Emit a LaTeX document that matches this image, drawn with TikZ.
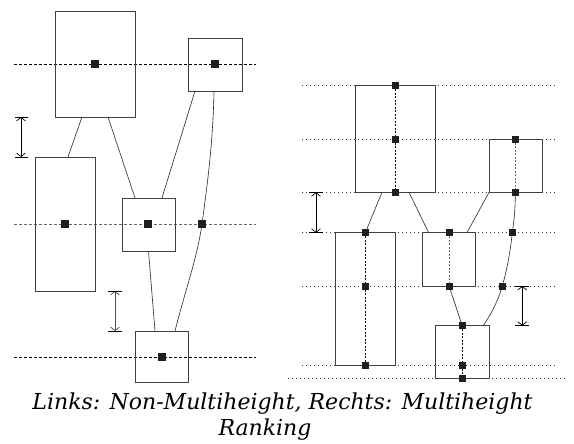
\documentclass[tikz,border=0pt]{standalone}
\usepackage{fontspec}
\setmainfont{DejaVu Serif}
\usetikzlibrary{arrows.meta,calc}
\tikzset{
 blk/.style={draw=black!75, line width=0.7pt, inner sep=0pt, outer sep=0pt},
 dot/.style={fill=black!88, inner sep=0pt, outer sep=0pt, minimum size=8pt},
 rdot/.style={fill=black!88, inner sep=0pt, outer sep=0pt, minimum size=7pt},
 guide/.style={dash pattern=on 3pt off 2pt, line width=0.6pt},
 rguide/.style={dash pattern=on 1.2pt off 2.8pt, line width=0.8pt, black!80},
 vguide/.style={dash pattern=on 2pt off 1.5pt, line width=0.6pt},
 edge/.style={line width=0.6pt, black!85},
 gap/.style={line width=0.7pt, {Straight Barb[length=3.5pt,width=9pt]}-{Straight Barb[length=3.5pt,width=9pt]}},
 tick/.style={line width=0.6pt},
 captext/.style={font=\itshape\fontsize{22}{26}\selectfont, anchor=base, inner sep=0pt},
}
\begin{document}
\begin{tikzpicture}[x=1pt,y=-1pt]
\useasboundingbox (0,0) rectangle (574,444);
% ---------------- left: guides
\draw[guide] (14,64) -- (256,64);
\draw[guide, black!60] (14,224) -- (256,224);
\draw[guide] (14,357) -- (256,357);
% boxes
\node[blk, minimum width=80pt, minimum height=106pt] (LA) at (95,64) {};
\node[blk, minimum width=54pt, minimum height=53pt] (LB) at (215,64.5) {};
\node[blk, minimum width=60pt, minimum height=134pt] (LC) at (65,224) {};
\node[blk, minimum width=53pt, minimum height=53pt] (LD) at (148.5,224.5) {};
\node[blk, minimum width=53pt, minimum height=51pt] (LE) at (161.5,356.5) {};
% dots
\node[dot] (la) at (95,64) {};
\node[dot] (lb) at (215,64) {};
\node[dot] (lc) at (65,224) {};
\node[dot] (ld) at (148,224) {};
\node[dot] (lx) at (202,224) {};
\node[dot] (le) at (162,357) {};
% edges
\draw[edge] ([xshift=27pt]LA.south west) -- ([xshift=33pt]LC.north west);
\draw[edge] ([xshift=53pt]LA.south west) -- ([xshift=13pt]LD.north west);
\draw[edge] ([xshift=7pt]LB.south west) -- ([xshift=40pt]LD.north west);
\draw[edge] (LD.south) -- ([xshift=20pt]LE.north west);
\draw[edge] ([xshift=26pt]LB.south west) .. controls +(-1,55) and +(4,-30) .. (lx.center)
  .. controls +(-5,35) and +(10,-40) .. ([xshift=40pt]LE.north west);
% gap arrows
\coordinate (g1t) at (21,117); \coordinate (g1b) at (21,157);
\draw[gap] (g1t) -- (g1b);
\draw[tick] ([xshift=-6pt]g1t) -- ([xshift=7pt]g1t);
\draw[tick] ([xshift=-6pt]g1b) -- ([xshift=7pt]g1b);
\coordinate (g2t) at (115,291); \coordinate (g2b) at (115,331);
\draw[gap, black!70] (g2t) -- (g2b);
\draw[tick] ([xshift=-7pt]g2t) -- ([xshift=7pt]g2t);
\draw[tick] ([xshift=-7pt]g2b) -- ([xshift=7pt]g2b);
% ---------------- right: guides
\foreach \yy in {85.7,139.3,192.3,232.7,286,365.3}
  \draw[rguide] (302,\yy) -- (556,\yy);
\draw[rguide] (288,378.3) -- (567,378.3);
% boxes
\node[blk, minimum width=80.4pt, minimum height=106.6pt] (RA) at (395.5,139) {};
\node[blk, minimum width=53.3pt, minimum height=53pt] (RB) at (515.7,165.8) {};
\node[blk, minimum width=59.6pt, minimum height=132.6pt] (RC) at (365.5,299) {};
\node[blk, minimum width=53.7pt, minimum height=53.3pt] (RD) at (448.8,259.3) {};
\node[blk, minimum width=53.6pt, minimum height=52.6pt] (RE) at (462.5,352) {};
% dots
\node[rdot] (ra1) at (395.3,85.7) {};
\node[rdot] (ra2) at (395.3,139.3) {};
\node[rdot] (ra3) at (395.3,192.3) {};
\node[rdot] (rb1) at (515.3,139.3) {};
\node[rdot] (rb2) at (515.3,192.3) {};
\node[rdot] (rc1) at (365.3,232.7) {};
\node[rdot] (rc2) at (365.3,286) {};
\node[rdot] (rc3) at (365.3,365.3) {};
\node[rdot] (rd1) at (449,232.7) {};
\node[rdot] (rd2) at (449,286) {};
\node[rdot] (re1) at (462.3,325.7) {};
\node[rdot] (re2) at (462.3,365.3) {};
\node[rdot] (re3) at (462.3,378.3) {};
\node[rdot] (rx1) at (512.3,232.7) {};
\node[rdot] (rx2) at (502.3,286) {};
% vertical dashed within boxes
\draw[vguide] (ra1) -- (ra2) -- (ra3);
\draw[vguide, black!60] (rb1) -- (rb2);
\draw[vguide] (rc1) -- (rc2) -- (rc3);
\draw[vguide, black!60] (rd1) -- (rd2);
\draw[vguide] (re1) -- (re2) -- (re3);
% edges
\draw[edge] ([xshift=26.7pt]RA.south west) -- (rc1);
\draw[edge] ([xshift=53.7pt]RA.south west) -- ([xshift=6.7pt]RD.north west);
\draw[edge] (RB.south west) -- ([xshift=45pt]RD.north west);
\draw[edge] (rd2) -- (re1);
\draw[edge] (rb2) .. controls +(0,14) and +(2,-14) .. (rx1)
  .. controls +(-2,18) and +(5,-18) .. (rx2)
  .. controls +(-5,16) and +(8,-12) .. ([xshift=47.6pt]RE.north west);
% gap arrows
\coordinate (g3t) at (316,192.3); \coordinate (g3b) at (316,232.7);
\draw[gap] (g3t) -- (g3b);
\draw[tick] ([xshift=-7pt]g3t) -- ([xshift=7pt]g3t);
\draw[tick] ([xshift=-7pt]g3b) -- ([xshift=7pt]g3b);
\coordinate (g4t) at (522.3,286); \coordinate (g4b) at (522.3,325.7);
\draw[gap] (g4t) -- (g4b);
\draw[tick] ([xshift=-7pt]g4t) -- ([xshift=7pt]g4t);
\draw[tick] ([xshift=-7pt]g4b) -- ([xshift=7pt]g4b);
% caption
\node[captext] (cap1) at (282.5,409) {Links: Non-Multiheight, Rechts: Multiheight};
\node[captext] (cap2) at (265,435) {Ranking};
\end{tikzpicture}
\end{document}
